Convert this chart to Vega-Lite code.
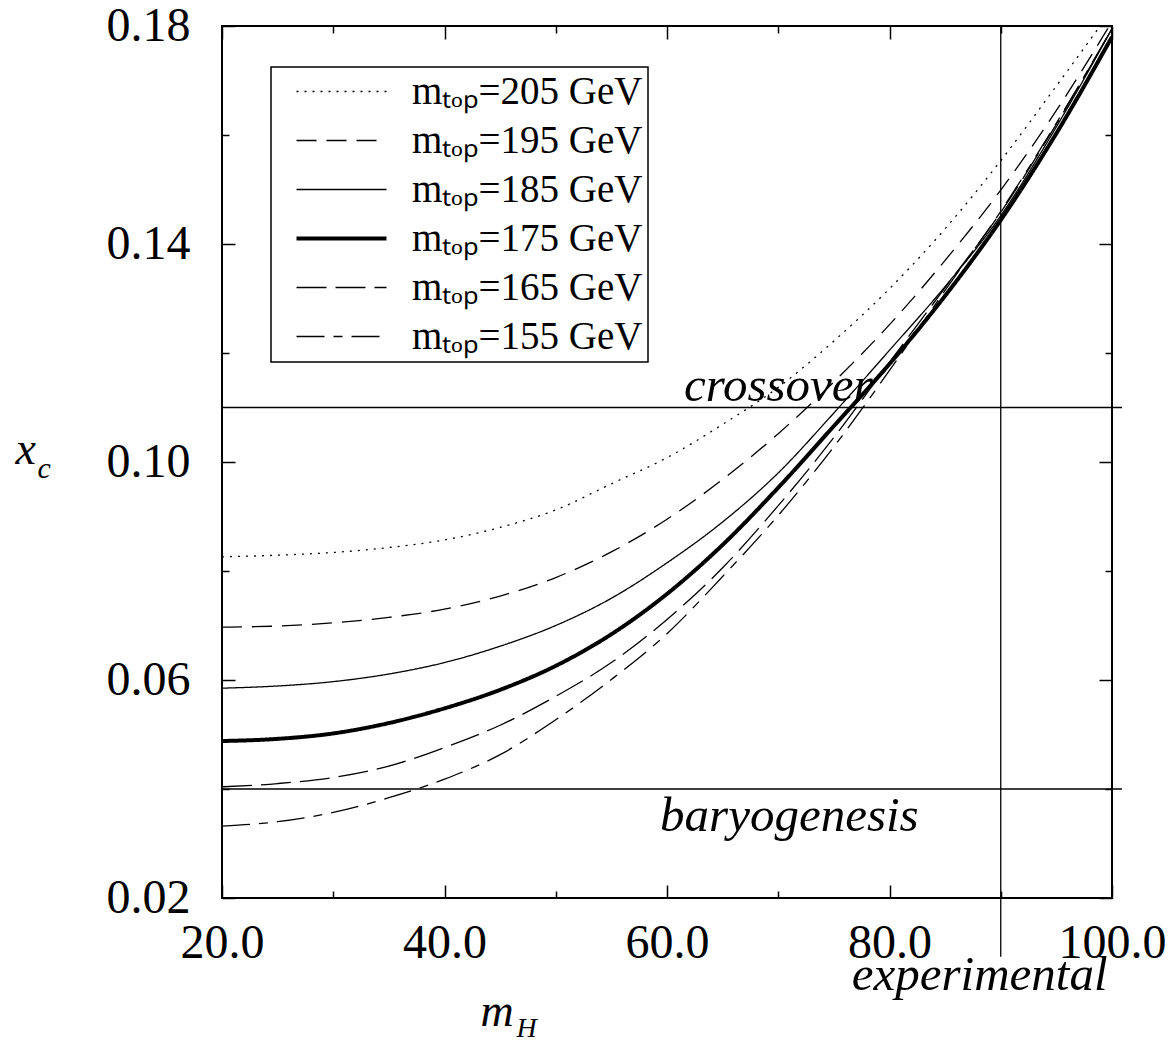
{
  "$schema": "https://vega.github.io/schema/vega-lite/v6.json",
  "autosize": {"type": "none"},
  "padding": {"left": 222, "top": 26, "right": 63, "bottom": 143},
  "width": 890,
  "height": 872,
  "background": "white",
  "config": {
    "font": "Liberation Serif",
    "view": {"stroke": "black", "strokeWidth": 2},
    "axis": {"grid": false, "domain": false, "tickColor": "black", "tickWidth": 1.5, "labelColor": "black", "titleColor": "black", "titleFontWeight": "normal", "labelFont": "Liberation Serif", "titleFont": "Liberation Serif"},
    "legend": {"strokeWidth": 1.5, "labelFont": "Liberation Serif", "titleFont": "Liberation Serif"},
    "text": {"font": "Liberation Serif"}
  },
  "datasets": {
    "curves": [
      {"mH": 20, "xc": 0.0826, "mtop": "205"}, {"mH": 25, "xc": 0.0829, "mtop": "205"}, {"mH": 30, "xc": 0.0834, "mtop": "205"}, {"mH": 35, "xc": 0.0843, "mtop": "205"}, {"mH": 40, "xc": 0.0857, "mtop": "205"}, {"mH": 45, "xc": 0.0880, "mtop": "205"}, {"mH": 50, "xc": 0.0912, "mtop": "205"}, {"mH": 55, "xc": 0.0960, "mtop": "205"}, {"mH": 60, "xc": 0.1008, "mtop": "205"}, {"mH": 65, "xc": 0.1069, "mtop": "205"}, {"mH": 70, "xc": 0.1137, "mtop": "205"}, {"mH": 75, "xc": 0.1222, "mtop": "205"}, {"mH": 80, "xc": 0.1318, "mtop": "205"}, {"mH": 85, "xc": 0.1428, "mtop": "205"}, {"mH": 90, "xc": 0.1553, "mtop": "205"}, {"mH": 95, "xc": 0.1690, "mtop": "205"}, {"mH": 100, "xc": 0.1830, "mtop": "205"},
      {"mH": 20, "xc": 0.0697, "mtop": "195"}, {"mH": 25, "xc": 0.0699, "mtop": "195"}, {"mH": 30, "xc": 0.0705, "mtop": "195"}, {"mH": 35, "xc": 0.0715, "mtop": "195"}, {"mH": 40, "xc": 0.0730, "mtop": "195"}, {"mH": 45, "xc": 0.0754, "mtop": "195"}, {"mH": 50, "xc": 0.0788, "mtop": "195"}, {"mH": 55, "xc": 0.0835, "mtop": "195"}, {"mH": 60, "xc": 0.0895, "mtop": "195"}, {"mH": 65, "xc": 0.0968, "mtop": "195"}, {"mH": 70, "xc": 0.1052, "mtop": "195"}, {"mH": 75, "xc": 0.1147, "mtop": "195"}, {"mH": 80, "xc": 0.1252, "mtop": "195"}, {"mH": 85, "xc": 0.1370, "mtop": "195"}, {"mH": 90, "xc": 0.1499, "mtop": "195"}, {"mH": 95, "xc": 0.1645, "mtop": "195"}, {"mH": 100, "xc": 0.1808, "mtop": "195"},
      {"mH": 20, "xc": 0.0585, "mtop": "185"}, {"mH": 25, "xc": 0.0589, "mtop": "185"}, {"mH": 30, "xc": 0.0597, "mtop": "185"}, {"mH": 35, "xc": 0.0611, "mtop": "185"}, {"mH": 40, "xc": 0.0632, "mtop": "185"}, {"mH": 45, "xc": 0.0662, "mtop": "185"}, {"mH": 50, "xc": 0.0700, "mtop": "185"}, {"mH": 55, "xc": 0.0750, "mtop": "185"}, {"mH": 60, "xc": 0.0815, "mtop": "185"}, {"mH": 65, "xc": 0.0890, "mtop": "185"}, {"mH": 70, "xc": 0.0980, "mtop": "185"}, {"mH": 75, "xc": 0.1090, "mtop": "185"}, {"mH": 80, "xc": 0.1205, "mtop": "185"}, {"mH": 85, "xc": 0.1322, "mtop": "185"}, {"mH": 90, "xc": 0.1452, "mtop": "185"}, {"mH": 95, "xc": 0.1615, "mtop": "185"}, {"mH": 100, "xc": 0.1795, "mtop": "185"},
      {"mH": 20, "xc": 0.0488, "mtop": "175"}, {"mH": 25, "xc": 0.0492, "mtop": "175"}, {"mH": 30, "xc": 0.0502, "mtop": "175"}, {"mH": 35, "xc": 0.0521, "mtop": "175"}, {"mH": 40, "xc": 0.0548, "mtop": "175"}, {"mH": 45, "xc": 0.0582, "mtop": "175"}, {"mH": 50, "xc": 0.0626, "mtop": "175"}, {"mH": 55, "xc": 0.0684, "mtop": "175"}, {"mH": 60, "xc": 0.0758, "mtop": "175"}, {"mH": 65, "xc": 0.0848, "mtop": "175"}, {"mH": 70, "xc": 0.0953, "mtop": "175"}, {"mH": 75, "xc": 0.1066, "mtop": "175"}, {"mH": 80, "xc": 0.1180, "mtop": "175"}, {"mH": 85, "xc": 0.1305, "mtop": "175"}, {"mH": 90, "xc": 0.1444, "mtop": "175"}, {"mH": 95, "xc": 0.1603, "mtop": "175"}, {"mH": 100, "xc": 0.1780, "mtop": "175"},
      {"mH": 20, "xc": 0.0404, "mtop": "165"}, {"mH": 25, "xc": 0.0410, "mtop": "165"}, {"mH": 30, "xc": 0.0421, "mtop": "165"}, {"mH": 35, "xc": 0.0442, "mtop": "165"}, {"mH": 40, "xc": 0.0476, "mtop": "165"}, {"mH": 45, "xc": 0.0517, "mtop": "165"}, {"mH": 50, "xc": 0.0570, "mtop": "165"}, {"mH": 55, "xc": 0.0632, "mtop": "165"}, {"mH": 60, "xc": 0.0711, "mtop": "165"}, {"mH": 65, "xc": 0.0806, "mtop": "165"}, {"mH": 70, "xc": 0.0920, "mtop": "165"}, {"mH": 75, "xc": 0.1045, "mtop": "165"}, {"mH": 80, "xc": 0.1183, "mtop": "165"}, {"mH": 85, "xc": 0.1320, "mtop": "165"}, {"mH": 90, "xc": 0.1458, "mtop": "165"}, {"mH": 95, "xc": 0.1620, "mtop": "165"}, {"mH": 100, "xc": 0.1795, "mtop": "165"},
      {"mH": 20, "xc": 0.0332, "mtop": "155"}, {"mH": 25, "xc": 0.0340, "mtop": "155"}, {"mH": 30, "xc": 0.0357, "mtop": "155"}, {"mH": 35, "xc": 0.0384, "mtop": "155"}, {"mH": 40, "xc": 0.0418, "mtop": "155"}, {"mH": 45, "xc": 0.0463, "mtop": "155"}, {"mH": 50, "xc": 0.0527, "mtop": "155"}, {"mH": 55, "xc": 0.0601, "mtop": "155"}, {"mH": 60, "xc": 0.0685, "mtop": "155"}, {"mH": 65, "xc": 0.0790, "mtop": "155"}, {"mH": 70, "xc": 0.0902, "mtop": "155"}, {"mH": 75, "xc": 0.1028, "mtop": "155"}, {"mH": 80, "xc": 0.1168, "mtop": "155"}, {"mH": 85, "xc": 0.1315, "mtop": "155"}, {"mH": 90, "xc": 0.1460, "mtop": "155"}, {"mH": 95, "xc": 0.1622, "mtop": "155"}, {"mH": 100, "xc": 0.1795, "mtop": "155"}
    ],
    "hlines": [
      {"xc": 0.11, "name": "crossover"},
      {"xc": 0.04, "name": "baryogenesis"}
    ],
    "vlines": [
      {"mH": 90, "name": "experimental"}
    ]
  },
  "resolve": {"axis": {"x": "independent", "y": "independent"}},
  "layer": [
    {
      "data": {"name": "curves"},
      "mark": {"type": "line", "interpolate": "monotone", "clip": true, "color": "black"},
      "encoding": {
        "x": {
          "field": "mH", "type": "quantitative",
          "scale": {"domain": [20, 100], "nice": false, "zero": false},
          "axis": {"orient": "bottom", "values": [20, 40, 60, 80, 100], "format": ".1f", "ticks": false, "labelFlush": false, "labelOverlap": false, "labelFontSize": 48, "labelPadding": 21,
            "title": "m", "titleFontStyle": "italic", "titleFontSize": 46, "titleX": 258, "titleY": 127, "titleAlign": "left", "titleBaseline": "alphabetic", "titleAngle": 0}
        },
        "y": {
          "field": "xc", "type": "quantitative",
          "scale": {"domain": [0.02, 0.18], "nice": false, "zero": false},
          "axis": {"orient": "left", "values": [0.02, 0.06, 0.10, 0.14, 0.18], "format": ".2f", "ticks": false, "labelFlush": false, "labelOverlap": false, "labelFontSize": 48, "labelPadding": 32,
            "title": "x", "titleFontStyle": "italic", "titleFontSize": 46, "titleX": -207, "titleY": 437, "titleAlign": "left", "titleBaseline": "alphabetic", "titleAngle": 0}
        },
        "strokeDash": {
          "field": "mtop", "type": "nominal",
          "scale": {"domain": ["205", "195", "185", "175", "165", "155"], "range": [[2, 6], [20, 10], [1, 0], [1, 0], [30, 9], [28, 9, 9, 9]]},
          "legend": {"orient": "none", "legendX": 49, "legendY": 41, "title": null, "symbolType": "M0.067,0H6.067", "symbolSize": 900, "symbolStrokeColor": "black", "labelFontSize": 39, "labelOffset": 97, "rowPadding": 9, "padding": 5, "strokeColor": "black", "labelLimit": 0,
            "labelExpr": "'m\u209c\u2092\u209a=' + datum.label + ' GeV'"}
        },
        "strokeWidth": {
          "field": "mtop", "type": "nominal",
          "scale": {"type": "ordinal", "domain": ["205", "195", "185", "175", "165", "155"], "range": [1.3, 1.3, 1.3, 4, 1.3, 1.3]},
          "legend": {"orient": "none", "legendX": 49, "legendY": 41, "title": null, "symbolType": "M0.067,0H6.067", "symbolSize": 900, "symbolStrokeColor": "black", "labelFontSize": 39, "labelOffset": 97, "rowPadding": 9, "padding": 5, "strokeColor": "black", "labelLimit": 0,
            "labelExpr": "'m\u209c\u2092\u209a=' + datum.label + ' GeV'"}
        }
      }
    },
    {
      "data": {"name": "hlines"},
      "mark": {"type": "rule", "color": "black", "strokeWidth": 1.3},
      "encoding": {
        "y": {"field": "xc", "type": "quantitative",
          "axis": {"orient": "left", "values": [0.02, 0.04, 0.06, 0.08, 0.10, 0.12, 0.14, 0.16, 0.18], "labels": false,
            "tickSize": {"condition": {"test": "round(datum.value * 100) % 4 === 2", "value": -13}, "value": -7},
            "title": "c", "titleFontStyle": "italic", "titleFontSize": 30, "titleX": -185, "titleY": 451, "titleAlign": "left", "titleBaseline": "alphabetic", "titleAngle": 0}},
        "x": {"datum": 20,
          "axis": {"orient": "bottom", "values": [20, 30, 40, 50, 60, 70, 80, 90, 100], "labels": false,
            "tickSize": {"condition": {"test": "round(datum.value) % 20 === 0", "value": -13}, "value": -7},
            "title": "H", "titleFontStyle": "italic", "titleFontSize": 28, "titleX": 294, "titleY": 138, "titleAlign": "left", "titleBaseline": "alphabetic", "titleAngle": 0}},
        "x2": {"datum": 100.9}
      }
    },
    {
      "data": {"name": "vlines"},
      "mark": {"type": "rule", "color": "black", "strokeWidth": 1.3},
      "encoding": {
        "x": {"field": "mH", "type": "quantitative",
          "axis": {"orient": "top", "values": [20, 30, 40, 50, 60, 70, 80, 90, 100], "labels": false, "title": null,
            "tickSize": {"condition": {"test": "round(datum.value) % 20 === 0", "value": -13}, "value": -7}}},
        "y": {"datum": 0.18,
          "axis": {"orient": "right", "values": [0.02, 0.04, 0.06, 0.08, 0.10, 0.12, 0.14, 0.16, 0.18], "labels": false, "title": null,
            "tickSize": {"condition": {"test": "round(datum.value * 100) % 4 === 2", "value": -13}, "value": -7}}},
        "y2": {"datum": 0.0092}
      }
    },
    {
      "data": {"values": [{"label": "crossover"}]},
      "mark": {"type": "text", "font": "Liberation Serif", "fontStyle": "italic", "fontSize": 49, "align": "center", "baseline": "alphabetic", "dy": -7, "color": "black"},
      "encoding": {"text": {"field": "label"}, "x": {"datum": 70, "axis": null}, "y": {"datum": 0.11, "axis": null}}
    },
    {
      "data": {"values": [{"label": "baryogenesis"}]},
      "mark": {"type": "text", "font": "Liberation Serif", "fontStyle": "italic", "fontSize": 49, "align": "center", "baseline": "alphabetic", "dy": 42, "color": "black"},
      "encoding": {"text": {"field": "label"}, "x": {"datum": 71, "axis": null}, "y": {"datum": 0.04, "axis": null}}
    },
    {
      "data": {"values": [{"label": "experimental"}]},
      "mark": {"type": "text", "font": "Liberation Serif", "fontStyle": "italic", "fontSize": 49, "align": "center", "baseline": "alphabetic", "dy": 92, "color": "black"},
      "encoding": {"text": {"field": "label"}, "x": {"datum": 88.1, "axis": null}, "y": {"datum": 0.02, "axis": null}}
    }
  ]
}
